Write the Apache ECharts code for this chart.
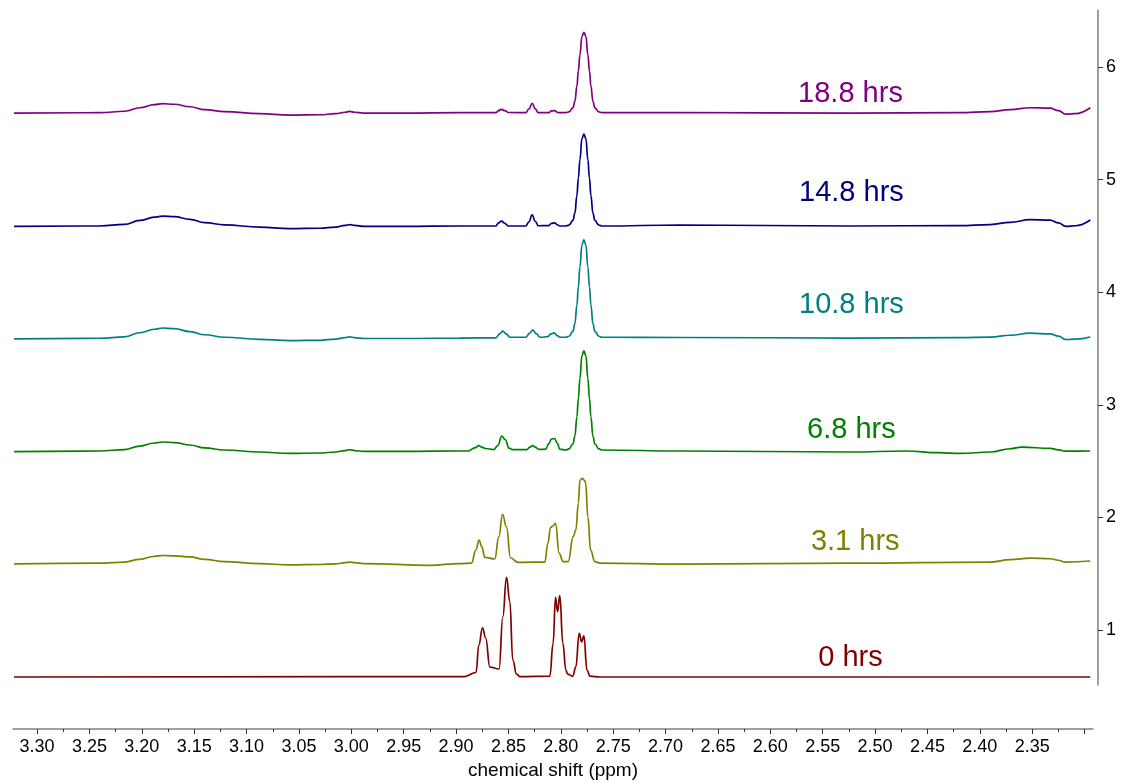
<!DOCTYPE html>
<html><head><meta charset="utf-8">
<script src="https://cdn.jsdelivr.net/npm/echarts@6/dist/echarts.min.js"></script>
<style>html,body{margin:0;padding:0;background:#fff}#c{width:1121px;height:783px}</style>
</head><body><div id="c"></div>
<script>
// ---- data (ppm, plotted intensity incl. stacking offset) ----
const timeLabels = ['0 hrs', '3.1 hrs', '6.8 hrs', '10.8 hrs', '14.8 hrs', '18.8 hrs'];
const colors = ['#800000', '#808000', '#008000', '#008080', '#000080', '#800080'];

const spec0 = [[3.322,0.583],[2.892,0.587],[2.881,0.623],[2.8783,0.867],[2.8748,1.020],[2.8717,0.929],[2.8678,0.671],[2.859,0.654],[2.8554,1.118],[2.8519,1.468],[2.8487,1.251],[2.8459,0.734],[2.8423,0.609],[2.8392,0.587],[2.8105,0.591],[2.8074,0.882],[2.8051,1.290],[2.8032,1.163],[2.801,1.305],[2.7981,0.882],[2.7952,0.645],[2.7936,0.609],[2.7886,0.591],[2.7857,0.674],[2.7825,0.971],[2.7802,0.896],[2.778,0.949],[2.7751,0.645],[2.7722,0.591],[2.7627,0.583],[2.2946,0.583]];

const spec1 = [[3.322,1.588],[3.240,1.595],[3.2165,1.604],[3.202,1.628],[3.188,1.655],[3.180,1.662],[3.169,1.659],[3.154,1.650],[3.140,1.628],[3.121,1.607],[3.0875,1.590],[3.059,1.579],[3.030,1.582],[3.015,1.588],[3.006,1.598],[3.0016,1.604],[2.997,1.598],[2.988,1.590],[2.925,1.575],[2.8964,1.590],[2.8853,1.594],[2.8812,1.710],[2.8781,1.799],[2.8755,1.740],[2.8726,1.646],[2.8631,1.631],[2.8592,1.829],[2.8557,2.028],[2.8519,1.917],[2.8481,1.642],[2.8408,1.601],[2.8153,1.604],[2.8124,1.770],[2.8098,1.912],[2.8074,1.924],[2.8051,1.948],[2.8016,1.681],[2.7978,1.607],[2.793,1.607],[2.7882,1.829],[2.7857,1.888],[2.7833,2.125],[2.7818,2.330],[2.7795,2.347],[2.7775,2.330],[2.7764,2.308],[2.7742,2.006],[2.7716,1.710],[2.7675,1.607],[2.7627,1.595],[2.6863,1.586],[2.5239,1.595],[2.3901,1.604],[2.371,1.625],[2.3519,1.639],[2.3328,1.633],[2.325,1.620],[2.3184,1.603],[2.2946,1.613]];

const spec2 = [[3.322,2.585],[3.240,2.590],[3.2165,2.603],[3.202,2.634],[3.188,2.661],[3.180,2.670],[3.169,2.665],[3.154,2.643],[3.140,2.617],[3.121,2.599],[3.0875,2.581],[3.059,2.568],[3.030,2.572],[3.015,2.581],[3.006,2.594],[3.0016,2.601],[2.997,2.594],[2.988,2.586],[2.95,2.586],[2.8964,2.590],[2.889,2.590],[2.8815,2.620],[2.8785,2.637],[2.8755,2.625],[2.872,2.612],[2.864,2.603],[2.860,2.640],[2.8565,2.723],[2.853,2.690],[2.8495,2.615],[2.846,2.602],[2.8325,2.603],[2.8295,2.625],[2.827,2.637],[2.8245,2.625],[2.821,2.604],[2.8145,2.606],[2.8115,2.655],[2.809,2.696],[2.806,2.701],[2.8035,2.660],[2.801,2.606],[2.7952,2.599],[2.7923,2.608],[2.7885,2.652],[2.7866,2.722],[2.7847,2.890],[2.7833,3.057],[2.7818,3.233],[2.7799,3.436],[2.778,3.480],[2.7761,3.436],[2.7742,3.233],[2.7727,3.057],[2.7713,2.890],[2.7694,2.722],[2.7675,2.652],[2.7637,2.608],[2.7608,2.599],[2.6863,2.590],[2.5239,2.581],[2.47,2.590],[2.44,2.575],[2.4187,2.568],[2.3901,2.581],[2.371,2.610],[2.36,2.625],[2.3328,2.613],[2.325,2.600],[2.3184,2.588],[2.2946,2.590]];

const spec3 = [[3.322,3.586],[3.240,3.591],[3.2165,3.604],[3.202,3.640],[3.188,3.671],[3.180,3.682],[3.169,3.676],[3.154,3.650],[3.140,3.622],[3.121,3.600],[3.0875,3.582],[3.059,3.570],[3.030,3.573],[3.015,3.584],[3.006,3.597],[3.0016,3.604],[2.997,3.597],[2.988,3.589],[2.95,3.589],[2.8964,3.593],[2.862,3.595],[2.8585,3.630],[2.8555,3.655],[2.852,3.628],[2.8485,3.600],[2.8335,3.600],[2.830,3.635],[2.8268,3.664],[2.8235,3.632],[2.820,3.600],[2.8125,3.605],[2.8095,3.630],[2.8065,3.638],[2.8035,3.615],[2.801,3.600],[2.7952,3.600],[2.7923,3.609],[2.7885,3.652],[2.7866,3.721],[2.7847,3.885],[2.7833,4.049],[2.7818,4.222],[2.7799,4.421],[2.778,4.464],[2.7761,4.421],[2.7742,4.222],[2.7727,4.049],[2.7713,3.885],[2.7694,3.721],[2.7675,3.652],[2.7637,3.609],[2.7608,3.600],[2.6863,3.598],[2.5239,3.593],[2.42,3.596],[2.3901,3.602],[2.371,3.618],[2.352,3.636],[2.333,3.630],[2.325,3.610],[2.318,3.580],[2.309,3.583],[2.2946,3.602]];

const spec4 = [[3.322,4.584],[3.240,4.588],[3.2165,4.602],[3.202,4.637],[3.188,4.666],[3.180,4.676],[3.169,4.671],[3.154,4.646],[3.140,4.618],[3.121,4.598],[3.0875,4.578],[3.059,4.564],[3.030,4.568],[3.015,4.578],[3.006,4.593],[3.0016,4.601],[2.997,4.593],[2.988,4.584],[2.95,4.584],[2.8964,4.588],[2.862,4.588],[2.8595,4.615],[2.8567,4.632],[2.8535,4.612],[2.850,4.588],[2.8335,4.588],[2.8305,4.625],[2.8274,4.686],[2.8245,4.630],[2.8215,4.590],[2.8115,4.592],[2.809,4.612],[2.806,4.615],[2.803,4.597],[2.801,4.588],[2.7952,4.588],[2.7923,4.596],[2.7885,4.637],[2.7866,4.702],[2.7847,4.858],[2.7833,5.013],[2.7818,5.176],[2.7799,5.364],[2.778,5.405],[2.7761,5.364],[2.7742,5.176],[2.7727,5.013],[2.7713,4.858],[2.7694,4.702],[2.7675,4.637],[2.7637,4.596],[2.7608,4.588],[2.6863,4.597],[2.5239,4.588],[2.42,4.592],[2.3901,4.601],[2.371,4.620],[2.352,4.645],[2.333,4.640],[2.325,4.615],[2.318,4.585],[2.309,4.590],[2.2946,4.641]];

const spec5 = [[3.322,5.590],[3.240,5.594],[3.2165,5.607],[3.202,5.638],[3.188,5.665],[3.180,5.674],[3.169,5.669],[3.154,5.647],[3.140,5.621],[3.121,5.603],[3.0875,5.585],[3.059,5.572],[3.030,5.576],[3.015,5.585],[3.006,5.598],[3.0016,5.605],[2.997,5.598],[2.988,5.590],[2.95,5.590],[2.8964,5.594],[2.862,5.594],[2.8595,5.612],[2.8567,5.624],[2.8535,5.612],[2.850,5.596],[2.8335,5.594],[2.8305,5.625],[2.8274,5.678],[2.8245,5.630],[2.8215,5.594],[2.8115,5.594],[2.809,5.610],[2.806,5.612],[2.803,5.596],[2.801,5.594],[2.7952,5.594],[2.7923,5.601],[2.7885,5.637],[2.7866,5.694],[2.7847,5.830],[2.7833,5.965],[2.7818,6.108],[2.7799,6.272],[2.778,6.308],[2.7761,6.272],[2.7742,6.108],[2.7727,5.965],[2.7713,5.830],[2.7694,5.694],[2.7675,5.637],[2.7637,5.601],[2.7608,5.594],[2.6863,5.596],[2.5239,5.590],[2.42,5.594],[2.3901,5.603],[2.371,5.621],[2.352,5.638],[2.333,5.634],[2.325,5.612],[2.318,5.581],[2.309,5.585],[2.2946,5.638]];

const spectra = [spec0, spec1, spec2, spec3, spec4, spec5];

const xTickLabels = [3.30,3.25,3.20,3.15,3.10,3.05,3.00,2.95,2.90,2.85,2.80,2.75,2.70,2.65,2.60,2.55,2.50,2.45,2.40,2.35];
const xMajorTicks = xTickLabels.concat([2.30]);
const xMinorTicks = [3.275,3.225,3.175,3.125,3.075,3.025,2.975,2.925,2.875,2.825,2.775,2.725,2.675,2.625,2.575,2.525,2.475,2.425,2.375,2.325];
const yTicks = [1, 2, 3, 4, 5, 6];

// ---- layout ----
const labelPos = [[2.5235,0.751],[2.519,1.781],[2.5226,2.776],[2.5226,3.886],[2.5226,4.881],[2.5235,5.760]];
const FONT = 'Arial, "Liberation Sans", Helvetica, sans-serif';
const X_MIN = 2.292, X_MAX = 3.323, Y_MIN = 0.512, Y_MAX = 6.506;

const chart = echarts.init(document.getElementById('c'), null, {renderer: 'canvas'});
const baseX = {
  type: 'value', inverse: true, min: X_MIN, max: X_MAX, position: 'bottom', offset: 44,
  splitLine: {show: false}
};
chart.setOption({
  animation: false,
  backgroundColor: '#ffffff',
  grid: {left: 13, right: 28, top: 10, bottom: 98, containLabel: false, outerBoundsMode: 'none'},
  xAxis: [
    Object.assign({}, baseX, {
      axisLine: {show: true, lineStyle: {color: '#808080', width: 1.5}},
      axisTick: {show: true, length: 5, customValues: xMajorTicks, lineStyle: {color: '#333', width: 1}},
      axisLabel: {show: true, customValues: xTickLabels, margin: 9, color: '#000', fontSize: 18, fontFamily: FONT,
        formatter: v => v.toFixed(2)},
      name: 'chemical shift (ppm)', nameLocation: 'middle', nameGap: 31,
      nameTextStyle: {color: '#000', fontSize: 19, fontFamily: FONT}
    }),
    Object.assign({}, baseX, {
      axisLine: {show: false},
      axisTick: {show: true, length: 3, customValues: xMinorTicks, lineStyle: {color: '#333', width: 1}},
      axisLabel: {show: false}
    })
  ],
  yAxis: {
    type: 'value', min: Y_MIN, max: Y_MAX, position: 'right', offset: 5,
    splitLine: {show: false},
    axisLine: {show: true, lineStyle: {color: '#808080', width: 1.5}},
    axisTick: {show: true, inside: false, length: 5, customValues: yTicks, lineStyle: {color: '#333'}},
    axisLabel: {show: true, customValues: yTicks, margin: 8, color: '#000', fontSize: 18, fontFamily: FONT}
  },
  series: spectra.map((d, i) => ({
    type: 'line', name: timeLabels[i], data: d, xAxisIndex: 0,
    showSymbol: false, symbol: 'none', smooth: 0.45, smoothMonotone: 'x',
    lineStyle: {color: colors[i], width: 1.7},
    z: 2,
    markPoint: {
      symbolSize: 0, silent: true,
      label: {show: true, position: 'inside', formatter: timeLabels[i], color: colors[i], fontSize: 29, fontFamily: FONT},
      data: [{coord: labelPos[i]}]
    }
  }))
});
</script></body></html>
